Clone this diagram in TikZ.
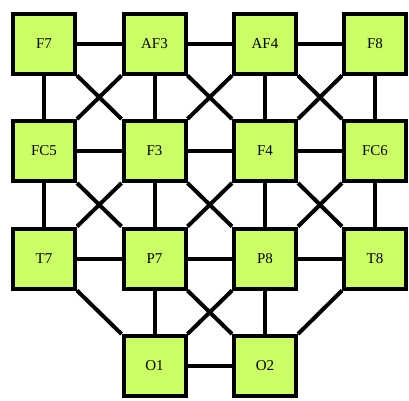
\documentclass[tikz,border=0pt]{standalone}
\usepackage{fontspec}
\setmainfont{Liberation Serif}
\usetikzlibrary{backgrounds}
\definecolor{boxgreen}{RGB}{204,255,102}
\begin{document}
\begin{tikzpicture}[x=1pt,y=-1pt,
  elec/.style={draw=black,line width=4pt,fill=boxgreen,minimum width=62pt,minimum height=60pt,inner sep=0pt,font=\fontsize{15}{17}\selectfont},
  wire/.style={draw=black,line width=4pt}]
\useasboundingbox (0,0) rectangle (409,400);
\node[elec] (F7)  at (44,43.5) {F7};
\node[elec] (AF3) at (154.5,43.5) {AF3};
\node[elec] (AF4) at (265,43.5) {AF4};
\node[elec] (F8)  at (375,43.5) {F8};
\node[elec] (FC5) at (44,151) {FC5};
\node[elec] (F3)  at (154.5,151) {F3};
\node[elec] (F4)  at (265,151) {F4};
\node[elec] (FC6) at (375,151) {FC6};
\node[elec] (T7)  at (44,258.5) {T7};
\node[elec] (P7)  at (154.5,258.5) {P7};
\node[elec] (P8)  at (265,258.5) {P8};
\node[elec] (T8)  at (375,258.5) {T8};
\node[elec] (O1)  at (154.5,366) {O1};
\node[elec] (O2)  at (265,366) {O2};
\begin{scope}[on background layer]
% horizontal
\draw[wire] (F7) -- (AF3); \draw[wire] (AF3) -- (AF4); \draw[wire] (AF4) -- (F8);
\draw[wire] (FC5) -- (F3); \draw[wire] (F3) -- (F4); \draw[wire] (F4) -- (FC6);
\draw[wire] (T7) -- (P7); \draw[wire] (P7) -- (P8); \draw[wire] (P8) -- (T8);
\draw[wire] (O1) -- (O2);
% vertical
\draw[wire] (F7) -- (FC5); \draw[wire] (AF3) -- (F3); \draw[wire] (AF4) -- (F4); \draw[wire] (F8) -- (FC6);
\draw[wire] (FC5) -- (T7); \draw[wire] (F3) -- (P7); \draw[wire] (F4) -- (P8); \draw[wire] (FC6) -- (T8);
\draw[wire] (P7) -- (O1); \draw[wire] (P8) -- (O2);
% diagonals rows 1-2
\draw[wire] (F7.south east) -- (F3.north west);
\draw[wire] (AF3.south west) -- (FC5.north east);
\draw[wire] (AF3.south east) -- (F4.north west);
\draw[wire] (AF4.south west) -- (F3.north east);
\draw[wire] (AF4.south east) -- (FC6.north west);
\draw[wire] (F8.south west) -- (F4.north east);
% diagonals rows 2-3
\draw[wire] (FC5.south east) -- (P7.north west);
\draw[wire] (F3.south west) -- (T7.north east);
\draw[wire] (F3.south east) -- (P8.north west);
\draw[wire] (F4.south west) -- (P7.north east);
\draw[wire] (F4.south east) -- (T8.north west);
\draw[wire] (FC6.south west) -- (P8.north east);
% diagonals rows 3-4
\draw[wire] (T7.south east) -- (O1.north west);
\draw[wire] (P7.south east) -- (O2.north west);
\draw[wire] (P8.south west) -- (O1.north east);
\draw[wire] (T8.south west) -- (O2.north east);
\end{scope}
\end{tikzpicture}
\end{document}
